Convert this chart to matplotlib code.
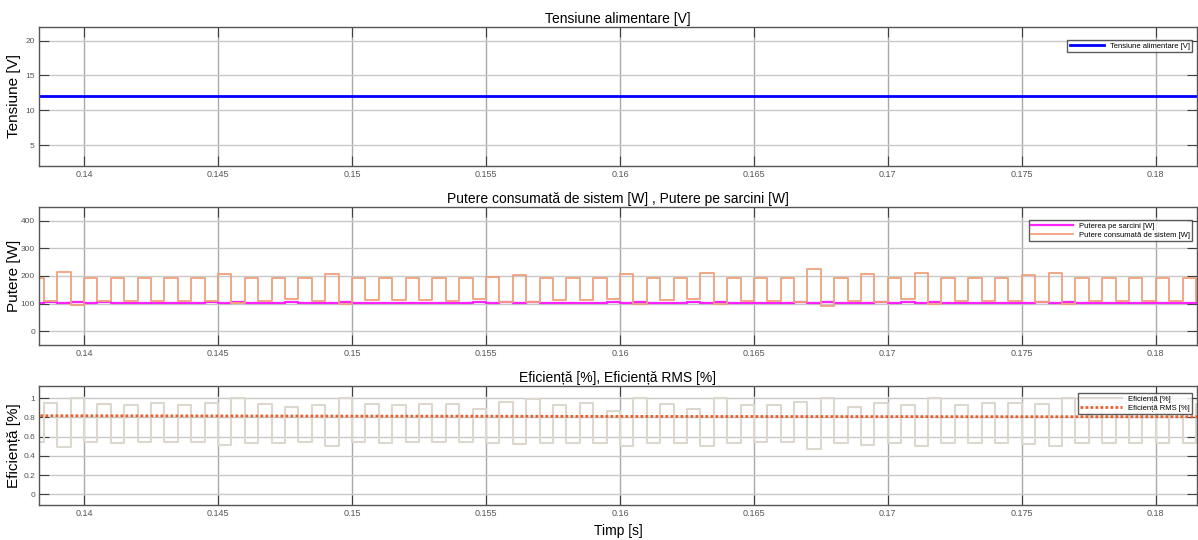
import matplotlib
matplotlib.use("Agg")
import matplotlib.pyplot as plt
import numpy as np

plt.rcParams['font.family'] = ['Liberation Sans', 'DejaVu Sans']

# sampling: one value per half period (0.5 ms), starting at t0
t0 = 0.138
dt = 0.0005

# supply voltage [V]
tensiune = 12.0

# consumed power [W], one high / low pair per 1 ms period (0.138 ... 0.181)
putere_sistem_high = [194, 214, 193, 193, 193, 193, 193, 205, 193, 193, 193, 208,
                      193, 193, 193, 193, 193, 196, 202, 193, 193, 193, 208, 193,
                      193, 211, 193, 193, 193, 223, 193, 208, 193, 211, 193, 193,
                      193, 202, 211, 193, 193, 193, 193, 193]
putere_sistem_low = [110, 96, 110, 110, 110, 110, 108, 102, 110, 116, 110, 97,
                     112, 112, 112, 110, 116, 104, 106, 112, 112, 118, 97, 112,
                     118, 97, 110, 110, 106, 90, 110, 104, 116, 97, 110, 110,
                     110, 104, 97, 110, 110, 110, 110, 110]

# load power [W]
putere_sarcini_a = [102] * 44
putere_sarcini_b = [104, 106, 104, 103, 103, 103, 104, 105, 103, 104, 103, 106,
                    103, 103, 103, 103, 104, 104, 105, 103, 103, 104, 106, 103,
                    104, 106, 103, 103, 104, 106, 103, 104, 104, 106, 103, 103,
                    103, 104, 106, 103, 103, 103, 103, 103]

# efficiency, low during high consumption, high during low consumption
eficienta_low = [0.54, 0.49, 0.54, 0.53, 0.54, 0.54, 0.54, 0.51, 0.53, 0.53, 0.54, 0.50,
                 0.54, 0.53, 0.54, 0.54, 0.54, 0.53, 0.52, 0.53, 0.53, 0.53, 0.50, 0.53,
                 0.53, 0.50, 0.53, 0.54, 0.54, 0.47, 0.53, 0.51, 0.53, 0.50, 0.53, 0.53,
                 0.53, 0.52, 0.50, 0.53, 0.53, 0.53, 0.53, 0.53]
eficienta_high = [0.95, 1.00, 0.94, 0.93, 0.95, 0.93, 0.95, 1.00, 0.94, 0.91, 0.93, 1.00,
                  0.94, 0.93, 0.94, 0.94, 0.89, 0.96, 0.99, 0.93, 0.95, 0.87, 1.00, 0.94,
                  0.89, 1.00, 0.93, 0.93, 0.96, 1.00, 0.91, 0.95, 0.93, 1.00, 0.93, 0.95,
                  0.95, 0.94, 1.00, 0.94, 0.95, 0.93, 0.94, 0.94]

# RMS efficiency, read every 5 ms
rms_t = [0.138, 0.145, 0.150, 0.155, 0.160, 0.165, 0.170, 0.175, 0.182]
eficienta_rms = [0.818, 0.816, 0.814, 0.813, 0.811, 0.810, 0.809, 0.808, 0.807]

xticks = [0.14, 0.145, 0.15, 0.155, 0.16, 0.165, 0.17, 0.175, 0.18]
xticklabels = ["0.14", "0.145", "0.15", "0.155", "0.16", "0.165", "0.17", "0.175", "0.18"]
xlim = (0.13832, 0.18153)


def stepped(high, low):
    v = np.column_stack([high, low]).ravel()
    v = np.append(v, v[-1])
    t = t0 + dt * np.arange(len(v))
    return t, v


def style(ax, ylim, yticks, ylabel, title):
    ax.set_xlim(*xlim)
    ax.set_ylim(*ylim)
    ax.set_xticks(xticks)
    ax.set_xticklabels(xticklabels)
    ax.set_yticks(yticks)
    ax.grid(True, axis='y', color='#c8c8c8', lw=1.0)
    ax.grid(True, axis='x', color='#a8a8a8', lw=1.0)
    ax.set_axisbelow(True)
    ax.tick_params(direction='in', length=7, width=0.8, colors='#404040',
                   labelcolor='#555555', labelsize=6.5, top=True, right=True)
    ax.tick_params(axis='x', pad=3)
    ax.tick_params(axis='y', labelsize=6, pad=3)
    for s in ax.spines.values():
        s.set_color('#555555')
        s.set_linewidth(1.0)
    ax.set_ylabel(ylabel, fontsize=11)
    ax.yaxis.set_label_coords(-0.0155, 0.5)
    ax.set_title(title, fontsize=10, pad=3)


fig = plt.figure(figsize=(11.98, 5.40), dpi=100)
L, W = 0.0326, 0.9664
ax1 = fig.add_axes([L, 0.6926, W, 0.2580])
ax2 = fig.add_axes([L, 0.3611, W, 0.2561])
ax3 = fig.add_axes([L, 0.0648, W, 0.2209])

# voltage
ax1.plot(list(xlim), [tensiune, tensiune], color='#0000ff', lw=2.0,
         label='Tensiune alimentare [V]')
style(ax1, (2, 22), [5, 10, 15, 20], 'Tensiune [V]', 'Tensiune alimentare [V]')
ax1.legend(loc='upper right', fontsize=5.5, frameon=True, fancybox=False,
           edgecolor='#333333', borderpad=0.3, handlelength=4.5,
           bbox_to_anchor=(0.9995, 0.93))

# power
tp, vp = stepped(putere_sistem_high, putere_sistem_low)
tl, vl = stepped(putere_sarcini_a, putere_sarcini_b)
ax2.step(tl, vl, where='post', color='#ff22ff', lw=1.6, label='Puterea pe sarcini [W]')
ax2.step(tp, vp, where='post', color='#f0a07c', lw=1.3, label='Putere consumată de sistem [W]')
style(ax2, (-50, 450), [0, 100, 200, 300, 400], 'Putere [W]',
      'Putere consumată de sistem [W] , Putere pe sarcini [W]')
ax2.legend(loc='upper right', fontsize=5.5, frameon=True, fancybox=False,
           edgecolor='#333333', borderpad=0.3, handlelength=5.5, labelspacing=0.25,
           bbox_to_anchor=(0.9995, 0.93))

# efficiency
te, ve = stepped(eficienta_low, eficienta_high)
ax3.step(te, ve, where='post', color='#dcd8d0', lw=1.5, label='Eficiență [%]')
ax3.plot(rms_t, eficienta_rms, color='#e8602c', lw=2.0, ls=(0, (1, 0.8)),
         label='Eficiență RMS [%]')
style(ax3, (-0.11, 1.13), [0, 0.2, 0.4, 0.6, 0.8, 1], 'Eficiență [%]',
      'Eficiență [%], Eficiență RMS [%]')
ax3.set_yticklabels(['0', '0.2', '0.4', '0.6', '0.8', '1'])
ax3.legend(loc='upper right', fontsize=5.5, frameon=True, fancybox=False,
           edgecolor='#333333', borderpad=0.3, handlelength=5.5, labelspacing=0.25,
           bbox_to_anchor=(0.9995, 0.97))
ax3.set_xlabel('Timp [s]', fontsize=10, labelpad=4)

fig.savefig('out.png', dpi=100)
